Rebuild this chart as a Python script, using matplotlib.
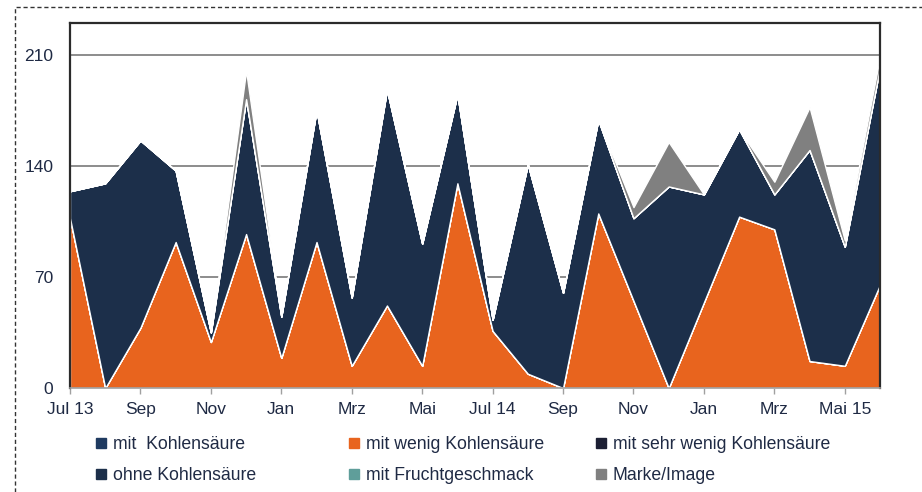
import matplotlib.pyplot as plt
from matplotlib.lines import Line2D
from matplotlib.patches import Rectangle

plt.rcParams['font.family'] = ['Liberation Sans', 'DejaVu Sans']

# Monate Jul 13 .. Jun 15
monate = ['Jul 13', 'Aug', 'Sep', 'Okt', 'Nov', 'Dez', 'Jan', 'Feb', 'Mrz', 'Apr', 'Mai', 'Jun',
          'Jul 14', 'Aug', 'Sep', 'Okt', 'Nov', 'Dez', 'Jan', 'Feb', 'Mrz', 'Apr', 'Mai 15', 'Jun']

mit_kohlensaeure = [0] * 24
mit_wenig = [107, 0, 38, 92, 29, 97, 19, 92, 14, 52, 14, 129,
             36, 9, 0, 110, 55, 0, 54, 108, 100, 17, 14, 65]
mit_sehr_wenig = [0] * 24
ohne = [17, 129, 118, 45, 6, 85, 26, 83, 43, 136, 77, 56,
        7, 132, 60, 59, 52, 127, 68, 55, 22, 133, 75, 137]
frucht = [0] * 24
marke = [0, 0, 0, 0, 0, 18, 0, 0, 0, 0, 0, 0,
         0, 0, 0, 0, 7, 28, 0, 0, 8, 27, 4, 7]

labels = ['mit  Kohlensäure', 'mit wenig Kohlensäure', 'mit sehr wenig Kohlensäure',
          'ohne Kohlensäure', 'mit Fruchtgeschmack', 'Marke/Image']
farben = ['#1f3a60', '#e8641e', '#1c1f33', '#1c2f4a', '#5f9e9a', '#808080']

yticks = [0, 70, 140, 210]
txt = '#1f2a44'

fig = plt.figure(figsize=(9.22, 4.92), dpi=100)
ax = fig.add_axes([70 / 922, 1 - 388 / 492, 810 / 922, 365 / 492])

x = list(range(len(monate)))
ax.stackplot(x, mit_kohlensaeure, mit_wenig, mit_sehr_wenig, ohne, frucht, marke,
             colors=farben, edgecolor='white', linewidth=1.0, zorder=2)

ax.set_xlim(0, len(monate) - 1)
ax.set_ylim(0, 230)
ax.set_yticks(yticks)
ax.set_xticks(x[::2])
ax.set_xticklabels(monate[::2])
ax.yaxis.grid(True, color='#8c8c8c', linewidth=1.4)
ax.set_axisbelow(True)

ax.tick_params(axis='y', length=0, pad=12, labelsize=12.5, labelcolor=txt)
ax.tick_params(axis='x', length=4, width=1, color='#a0a0a0', pad=6, labelsize=12.5, labelcolor=txt)
for s in ['left', 'top', 'right']:
    ax.spines[s].set_color('#2b2b2b')
    ax.spines[s].set_linewidth(1.6)
ax.spines['bottom'].set_color('#a0a0a0')
ax.spines['bottom'].set_linewidth(1.2)

# Legende in drei Spalten, zeilenweise angeordnet
spalten_x = [96, 349, 596]
for k, sx in enumerate(spalten_x):
    handles = [Line2D([], [], marker='s', linestyle='none', markersize=7,
                      color=farben[i]) for i in (k, k + 3)]
    fig.legend(handles, [labels[k], labels[k + 3]], loc='upper left',
               bbox_to_anchor=(sx / 922, 1 - 436 / 492), frameon=False,
               fontsize=12.7, labelcolor=txt, handlelength=0.6,
               handletextpad=0.35, labelspacing=0.8, borderpad=0, borderaxespad=0)

# gestrichelter Rahmen
fig.patches.append(Rectangle((15 / 922, -0.05), 1.0, 1 - 7 / 492 + 0.05,
                             transform=fig.transFigure, fill=False,
                             linestyle=(0, (3, 2)), linewidth=1, edgecolor='#333333'))

fig.savefig('out.png', dpi=100)
